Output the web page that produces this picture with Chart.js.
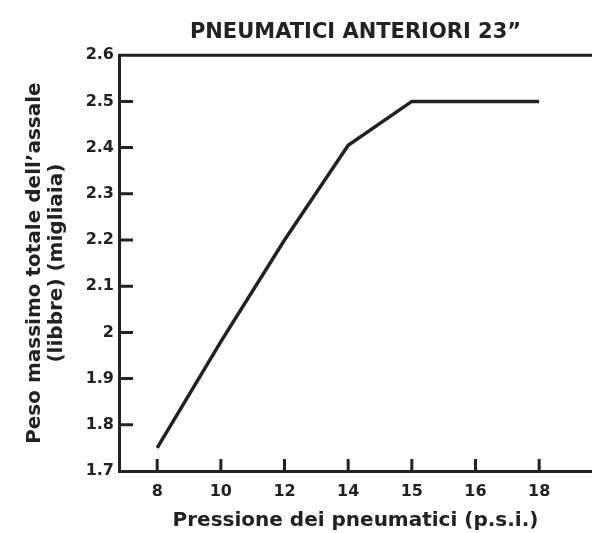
<!DOCTYPE html>
<html>
<head>
<meta charset="utf-8">
<script src="https://cdn.jsdelivr.net/npm/chart.js@4/dist/chart.umd.min.js"></script>
<style>
  body { margin: 0; background: #fff; }
  #wrap { width: 592px; height: 533px; }
</style>
</head>
<body>
<div id="wrap"><canvas id="graphTyre"></canvas></div>
<script>
// dati
const pressureLabels = ['8', '10', '12', '14', '15', '16', '18'];
const axleWeight = [1.75, 1.98, 2.2, 2.405, 2.5, 2.5, 2.5];
const weightTicks = [1.7, 1.8, 1.9, 2, 2.1, 2.2, 2.3, 2.4, 2.5, 2.6];

const ink = '#222';
const tickFont = { family: 'DejaVu Sans', size: 16, weight: 'bold' };

// trattini interni + bordo superiore
const tickMarks = {
  id: 'tickMarks',
  afterDatasetsDraw(chart) {
    const ctx = chart.ctx;
    const area = chart.chartArea;
    const x = chart.scales.x;
    const y = chart.scales.y;
    ctx.save();
    ctx.strokeStyle = ink;
    ctx.lineWidth = 3;
    ctx.beginPath();
    x.ticks.forEach(t => {
      const px = x.getPixelForValue(t.value);
      ctx.moveTo(px, area.bottom);
      ctx.lineTo(px, area.bottom - 12);
    });
    y.ticks.forEach(t => {
      if (t.value <= 1.7 || t.value >= 2.6) return;
      const py = y.getPixelForValue(t.value);
      ctx.moveTo(area.left, py);
      ctx.lineTo(area.left + 14, py);
    });
    ctx.stroke();
    ctx.beginPath();
    ctx.moveTo(area.left, area.top);
    ctx.lineTo(area.right, area.top);
    ctx.stroke();
    ctx.restore();
  }
};

const graphTyre = document.querySelector('#graphTyre');
const dataTyre = {
  datasets: [{
    data: axleWeight.map((v, i) => ({ x: i, y: v })),
    borderColor: ink,
    borderWidth: 3.5,
    pointRadius: 0,
    tension: 0,
    fill: false
  }]
};

const configTyre = {
  type: 'line',
  data: dataTyre,
  options: {
    responsive: true,
    maintainAspectRatio: false,
    animation: false,
    devicePixelRatio: 1,
    layout: { padding: 0 },
    plugins: {
      legend: { display: false },
      tooltip: { enabled: false },
      title: {
        display: true,
        text: 'PNEUMATICI ANTERIORI 23\u201D',
        color: ink,
        fullSize: false,
        font: { family: 'DejaVu Sans', size: 21, weight: 'bold', lineHeight: 1.2 },
        padding: { top: 20, bottom: 10 }
      }
    },
    scales: {
      x: {
        type: 'linear',
        min: -0.6,
        max: 6.83,
        afterBuildTicks: s => { s.ticks = pressureLabels.map((l, i) => ({ value: i })); },
        afterFit: s => { s.height = 62; },
        grid: { display: false },
        border: { display: true, color: ink, width: 3 },
        ticks: {
          color: ink,
          font: tickFont,
          padding: 3,
          callback: v => pressureLabels[v]
        },
        title: {
          display: true,
          text: 'Pressione dei pneumatici (p.s.i.)',
          color: ink,
          font: { family: 'DejaVu Sans', size: 20, weight: 'bold', lineHeight: 1.2 },
          padding: { top: 0, bottom: 0 }
        }
      },
      y: {
        min: 1.7,
        max: 2.6,
        afterBuildTicks: s => { s.ticks = weightTicks.map(v => ({ value: v })); },
        afterFit: s => { s.width = 119; },
        grid: { display: false },
        border: { display: true, color: ink, width: 3 },
        ticks: {
          color: ink,
          font: tickFont,
          padding: -3,
          callback: v => String(Number(v.toFixed(1)))
        },
        title: {
          display: true,
          text: ['Peso massimo totale dell\u2019assale', '(libbre) (migliaia)'],
          color: ink,
          font: { family: 'DejaVu Sans', size: 20, weight: 'bold', lineHeight: 1.1 },
          padding: { top: 24, bottom: 0 }
        }
      }
    }
  },
  plugins: [tickMarks]
};

new Chart(graphTyre, configTyre);
</script>
</body>
</html>
